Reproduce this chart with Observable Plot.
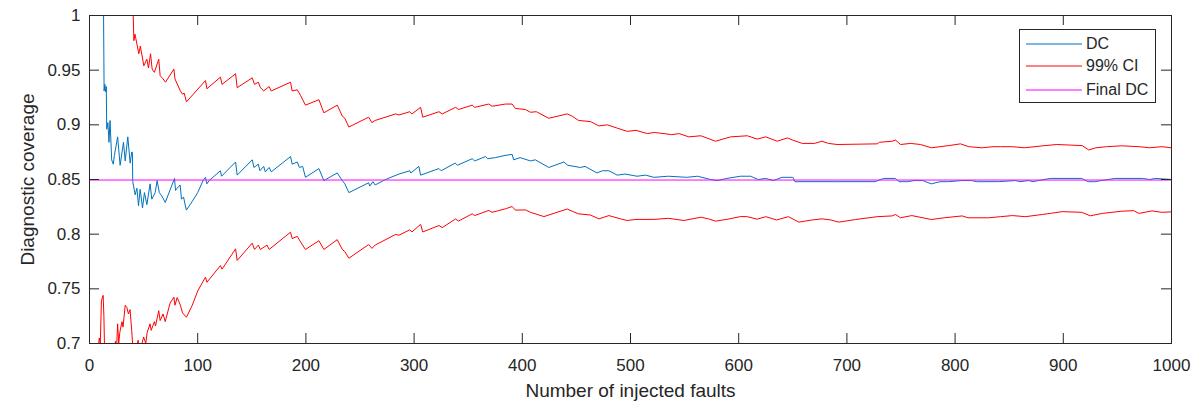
<!DOCTYPE html>
<html>
<head>
<meta charset="utf-8">
<script src="https://cdn.jsdelivr.net/npm/d3@7"></script>
<script src="https://cdn.jsdelivr.net/npm/@observablehq/plot@0.6"></script>
<style>
  html, body { margin: 0; padding: 0; background: #fff; }
  #wrap { position: relative; width: 1197px; height: 403px; }
  #legend { position: absolute; left: 1019px; top: 29px; width: 137px; height: 74px;
    border: 1px solid #262626; background: #fff; box-sizing: border-box;
    font-family: 'Liberation Sans', Arial, sans-serif; font-size: 16px; color: #262626; }
  .row { position: absolute; left: 0; height: 20px; width: 100%; }
  .row svg { position: absolute; left: 5px; top: 0; }
  .row span { position: absolute; left: 66px; top: 1px; line-height: 18px; white-space: nowrap; }
</style>
</head>
<body>
<div id="wrap"></div>
<script>
// ---- data ----
const xTicks = [0, 100, 200, 300, 400, 500, 600, 700, 800, 900, 1000];
const xTickLabels = ["0", "100", "200", "300", "400", "500", "600", "700", "800", "900", "1000"];
const yTicks = [0.7, 0.75, 0.8, 0.85, 0.9, 0.95, 1];
const yTickLabels = ["0.7", "0.75", "0.8", "0.85", "0.9", "0.95", "1"];

const seriesNames = ["DC", "99% CI", "Final DC"];
const seriesColors = ["#0072bd", "#ff0000", "#ff00ff"];

const finalDC = 0.8495;

const dcN = [1, 13, 13.5, 14.2, 15, 15.5, 15.9, 17, 18, 19, 20.5, 22, 23, 26, 28.3, 31.4, 33, 35.4, 37.6, 39, 39.6,
  40, 42.2, 43.8, 45.3, 46.8, 49, 50.8, 53, 56, 57.6, 60.7, 62.5, 64.5, 66.8, 70, 78.6, 79.5, 81, 83.8, 85, 86.9, 89.5,
  95, 100, 105.4, 107.2, 108.5, 110.5, 121, 122, 135, 136.5, 150.4, 152, 156, 157.5, 161, 162.5, 166, 168, 185.8, 187.3,
  192, 194, 197, 199.6, 212, 216.6, 229, 233.6, 236, 239.7, 258, 259, 262, 264, 273.6, 286, 296, 297, 304.4, 306, 323, 325,
  338, 340, 353.7, 356, 366, 368, 375, 384, 390.6, 392, 398, 407.5, 412, 424.5, 438.4, 442, 453.8, 458, 469, 474, 480,
  487.7, 495, 506, 514, 521.6, 535, 552, 562, 574, 580, 589, 601.7, 611, 618, 625, 632, 640, 650, 652, 690, 726, 734, 745,
  748, 756, 762, 770, 778, 786, 794, 806, 815, 820, 840, 856, 860, 868, 872, 877, 888, 917, 923, 929, 935, 948, 973, 980,
  985, 1000];
const dcV = [1, 1, 0.931, 0.937, 0.930, 0.935, 0.896, 0.902, 0.884, 0.904, 0.868, 0.864, 0.872, 0.889, 0.863, 0.884, 0.867, 0.889, 0.865, 0.875, 0.875,
  0.848, 0.836, 0.842, 0.826, 0.841, 0.824, 0.838, 0.827, 0.846, 0.832, 0.838, 0.849, 0.838, 0.835, 0.829, 0.851, 0.840, 0.842, 0.845, 0.832, 0.834, 0.822,
  0.830, 0.838, 0.850, 0.852, 0.846, 0.849, 0.858, 0.853, 0.866, 0.854, 0.868, 0.861, 0.864, 0.858, 0.862, 0.857, 0.861, 0.857, 0.871, 0.864,
  0.866, 0.861, 0.862, 0.852, 0.860, 0.849, 0.856, 0.849, 0.846, 0.838, 0.847, 0.844, 0.848, 0.845, 0.850, 0.855, 0.858, 0.856, 0.862, 0.854, 0.860, 0.858,
  0.865, 0.863, 0.869, 0.867, 0.871, 0.869, 0.870, 0.872, 0.873, 0.868, 0.870, 0.867, 0.868, 0.861, 0.866, 0.863, 0.861, 0.862, 0.856, 0.858, 0.858,
  0.854, 0.855, 0.853, 0.854, 0.852, 0.853, 0.852, 0.853, 0.850, 0.849, 0.851, 0.853, 0.853, 0.850, 0.851, 0.849, 0.852, 0.852, 0.848, 0.848, 0.848, 0.851,
  0.851, 0.848, 0.848, 0.849, 0.849, 0.846, 0.848, 0.848, 0.849, 0.849, 0.848, 0.848, 0.849, 0.848, 0.849, 0.848, 0.849, 0.851, 0.851, 0.848, 0.848, 0.849,
  0.851, 0.851, 0.850, 0.851, 0.850];

const upN = [39.7, 40.4, 41, 42, 45.6, 47, 50.2, 53, 54.5, 56.4, 57.9, 60, 64, 65.3, 68, 70.2, 78, 79, 84, 86, 87.5, 89.6,
  107.2, 108.5, 121, 122.5, 135, 136.5, 150.4, 152.5, 156, 158, 161, 166, 168, 185.8, 187.3, 192, 195, 199.6, 212, 216.6,
  229, 233.6, 236, 239.7, 258, 261, 264, 283, 286, 296, 298, 306, 308, 323, 326, 338.3, 341, 353.7, 356, 369, 372, 384.5,
  390.6, 393.6, 403, 407.5, 413, 424.5, 441.5, 446, 452, 463, 470.8, 478.5, 487.7, 497, 505, 515.5, 522, 531, 538, 545,
  553.9, 565, 578.6, 592.5, 608, 617, 625, 635.6, 645, 650, 658.7, 670, 677, 683, 691, 728, 730, 741.8, 745, 749.5, 758.8,
  768, 778, 794.2, 805, 812.7, 825, 835, 842, 853, 864, 883, 894, 917.5, 923.5, 930, 940, 954, 970, 980, 991, 1000];
const upV = [1.0, 1.0, 0.977, 0.983, 0.965, 0.972, 0.954, 0.960, 0.952, 0.965, 0.951, 0.948, 0.960, 0.945, 0.942, 0.939, 0.951, 0.942, 0.931, 0.928, 0.929, 0.921,
  0.9405, 0.933, 0.9436, 0.937, 0.9467, 0.934, 0.943, 0.937, 0.939, 0.934, 0.931, 0.935, 0.931, 0.939, 0.931, 0.932, 0.927, 0.918, 0.923, 0.911,
  0.918, 0.908, 0.906, 0.898, 0.907, 0.902, 0.904, 0.910, 0.909, 0.912, 0.910, 0.916, 0.907, 0.912, 0.910, 0.916, 0.914, 0.918, 0.916, 0.919, 0.917, 0.919,
  0.919, 0.915, 0.914, 0.9115, 0.912, 0.906, 0.910, 0.908, 0.904, 0.903, 0.899, 0.900, 0.897, 0.894, 0.895, 0.892, 0.893, 0.892, 0.891, 0.892,
  0.889, 0.890, 0.885, 0.889, 0.890, 0.887, 0.889, 0.885, 0.888, 0.886, 0.883, 0.883, 0.885, 0.883, 0.882, 0.8826, 0.884, 0.885, 0.886, 0.882, 0.883,
  0.882, 0.879, 0.881, 0.8826, 0.880, 0.879, 0.880, 0.880, 0.880, 0.879, 0.881, 0.882, 0.881, 0.877, 0.879, 0.880, 0.8808, 0.880, 0.879, 0.880, 0.879];

const loN = [7.5, 8.3, 9, 10, 11, 12.6, 13.3, 14, 17, 19, 20, 22, 24, 25, 26, 27, 28, 30, 31, 33, 34.5, 36, 37.5, 39, 40.5,
  42, 43, 45, 46, 48, 50, 52, 53.3, 56, 57, 60, 61, 64, 65.3, 68, 70, 74.5, 78, 79, 81, 84, 86, 89.6, 95, 100, 107.2, 108.5,
  121, 122.5, 135, 136.5, 150.4, 152.5, 156, 158, 164, 166, 185.8, 187.3, 192, 195, 199.6, 212, 216.6, 229, 233.6, 236,
  239.7, 258, 261, 264, 283, 286, 296, 298, 306, 308, 323, 326, 338.3, 341, 353.7, 356, 369, 372, 384.5, 390.6, 393.6, 403,
  407.5, 420, 441.5, 446, 452, 463, 470.8, 480, 490.8, 497, 505, 521.6, 535, 549.3, 565, 572, 578.6, 590, 601.7, 608, 617,
  625, 635, 646, 655.6, 668, 677, 685, 692.6, 708, 728, 741.8, 745, 749.5, 760, 778, 790, 806.5, 812, 831, 842, 853, 865,
  880.5, 888, 899, 917, 925, 936, 954, 965, 970, 982, 991, 1000];
const loV = [0.690, 0.698, 0.705, 0.700, 0.739, 0.744, 0.725, 0.690, 0.690, 0.700, 0.690, 0.690, 0.702, 0.695, 0.718, 0.700, 0.710, 0.720, 0.715, 0.735, 0.733, 0.727, 0.731, 0.712, 0.690,
  0.700, 0.695, 0.703, 0.690, 0.698, 0.706, 0.700, 0.710, 0.718, 0.712, 0.720, 0.716, 0.730, 0.721, 0.727, 0.720, 0.737, 0.7424, 0.735, 0.742, 0.735, 0.728, 0.724, 0.735, 0.748, 0.7607, 0.756,
  0.7713, 0.768, 0.7866, 0.776, 0.7918, 0.786, 0.790, 0.786, 0.790, 0.786, 0.8018, 0.796, 0.798, 0.793, 0.786, 0.794, 0.786, 0.795, 0.786, 0.784,
  0.778, 0.7905, 0.787, 0.790, 0.7998, 0.799, 0.804, 0.802, 0.809, 0.802, 0.8079, 0.806, 0.8139, 0.812, 0.8186, 0.817, 0.8217, 0.820, 0.8232, 0.8253, 0.822, 0.8222,
  0.820, 0.8161, 0.823, 0.821, 0.8186, 0.8175, 0.8140, 0.817, 0.814, 0.8125, 0.8135, 0.8135, 0.8145, 0.8125, 0.8155, 0.814, 0.8119, 0.8137, 0.8161, 0.816, 0.8137,
  0.816, 0.813, 0.816, 0.811, 0.813, 0.814, 0.813, 0.811, 0.8134, 0.816, 0.8167, 0.818, 0.815, 0.817, 0.8134, 0.815, 0.8167, 0.815, 0.815, 0.816, 0.817, 0.816,
  0.818, 0.819, 0.8206, 0.820, 0.8168, 0.819, 0.821, 0.8215, 0.819, 0.8213, 0.820, 0.8204];

// ---- build ----
const W = 1197, H = 403;
const mL = 89, mR = 26, mT = 15, mB = 60;
const plotW = W - mL - mR, plotH = H - mT - mB;
const axisColor = "#262626";
const fontFam = "'Liberation Sans', Arial, sans-serif";

const dc = dcN.map((n, i) => ({n, v: dcV[i]}));
const up = upN.map((n, i) => ({n, v: upV[i]}));
const lo = loN.map((n, i) => ({n, v: loV[i]}));

const chart = Plot.plot({
  width: W, height: H,
  marginLeft: mL, marginRight: mR, marginTop: mT, marginBottom: mB,
  x: {domain: [0, 1000]},
  y: {domain: [0.7, 1]},
  style: {fontFamily: fontFam, fontSize: "17px", color: axisColor, background: "#fff", overflow: "visible"},
  marks: [
    Plot.line(dc, {x: "n", y: "v", stroke: seriesColors[0], strokeWidth: 1, clip: true}),
    Plot.line(up, {x: "n", y: "v", stroke: seriesColors[1], strokeWidth: 1, clip: true}),
    Plot.line(lo, {x: "n", y: "v", stroke: seriesColors[1], strokeWidth: 1, clip: true}),
    Plot.ruleY([finalDC], {stroke: seriesColors[2], strokeWidth: 1}),
    Plot.frame({stroke: axisColor, strokeWidth: 1}),
    Plot.tickX(xTicks, {x: d => d, insetTop: plotH - 10, stroke: axisColor}),
    Plot.tickX(xTicks, {x: d => d, insetBottom: plotH - 10, stroke: axisColor}),
    Plot.tickY(yTicks, {y: d => d, insetRight: plotW - 10, stroke: axisColor}),
    Plot.tickY(yTicks, {y: d => d, insetLeft: plotW - 10, stroke: axisColor}),
    Plot.axisX({ticks: xTicks, tickSize: 0, tickPadding: 15, tickFormat: d => xTickLabels[xTicks.indexOf(d)], label: null, fontSize: 17, fill: axisColor}),
    Plot.axisX({ticks: [], tickSize: 0, label: "Number of injected faults", labelAnchor: "center", labelOffset: 53, labelArrow: "none", fontSize: 19, fill: axisColor}),
    Plot.axisY({ticks: yTicks, tickSize: 0, tickPadding: 9, tickFormat: d => yTickLabels[yTicks.indexOf(d)], label: null, fontSize: 17, fill: axisColor}),
    Plot.axisY({ticks: [], tickSize: 0, label: "Diagnostic coverage", labelAnchor: "center", labelOffset: 69, labelArrow: "none", fontSize: 19, fill: axisColor})
  ]
});

const wrap = document.getElementById("wrap");
wrap.appendChild(chart);

// legend (HTML overlay inside the axes, top-right)
const legend = document.createElement("div");
legend.id = "legend";
const rowTops = [4, 26, 50];
seriesNames.forEach((name, i) => {
  const row = document.createElement("div");
  row.className = "row";
  row.style.top = rowTops[i] + "px";
  row.innerHTML = `<svg width="58" height="20"><line x1="1" x2="57" y1="10" y2="10" stroke="${seriesColors[i]}" stroke-width="1"/></svg><span>${name}</span>`;
  legend.appendChild(row);
});
wrap.appendChild(legend);
</script>
</body>
</html>
